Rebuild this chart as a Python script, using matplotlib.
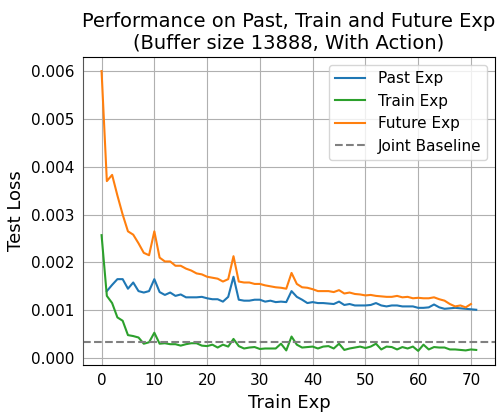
import numpy as np
import matplotlib
matplotlib.use("Agg")
import matplotlib.pyplot as plt

past = [np.nan, 0.00140, 0.00153, 0.00165, 0.00165, 0.00145, 0.00158, 0.00140, 0.00137, 0.00140,
        0.00165, 0.00138, 0.00132, 0.00137, 0.00130, 0.00133, 0.00127, 0.00127, 0.00127, 0.00128,
        0.00125, 0.00123, 0.00123, 0.00118, 0.00128, 0.00170, 0.00122, 0.00120, 0.00120, 0.00122,
        0.00122, 0.00118, 0.00120, 0.00117, 0.00118, 0.00117, 0.00140, 0.00128, 0.00122, 0.00115,
        0.00117, 0.00115, 0.00115, 0.00114, 0.00113, 0.00118, 0.00111, 0.00113, 0.00110, 0.00110,
        0.00110, 0.00111, 0.00115, 0.00110, 0.00108, 0.00110, 0.00110, 0.00108, 0.00108, 0.00108,
        0.00105, 0.00105, 0.00106, 0.00112, 0.00106, 0.00103, 0.00104, 0.00105, 0.00104, 0.00103,
        0.00102, 0.00101]

train = [0.00257, 0.00130, 0.00115, 0.00085, 0.00078, 0.00048, 0.00046, 0.00043, 0.00030, 0.00033,
         0.00053, 0.00030, 0.00031, 0.00029, 0.00029, 0.00026, 0.00029, 0.00031, 0.00031, 0.00026,
         0.00025, 0.00028, 0.00022, 0.00028, 0.00024, 0.00040, 0.00025, 0.00020, 0.00022, 0.00023,
         0.00019, 0.00020, 0.00020, 0.00020, 0.00030, 0.00016, 0.00045, 0.00028, 0.00022, 0.00023,
         0.00024, 0.00020, 0.00024, 0.00025, 0.00020, 0.00030, 0.00017, 0.00020, 0.00022, 0.00024,
         0.00021, 0.00024, 0.00030, 0.00018, 0.00024, 0.00023, 0.00018, 0.00023, 0.00020, 0.00024,
         0.00015, 0.00028, 0.00018, 0.00023, 0.00022, 0.00022, 0.00018, 0.00018, 0.00017, 0.00016,
         0.00018, 0.00017]

future = [0.00600, 0.00370, 0.00383, 0.00340, 0.00300, 0.00265, 0.00258, 0.00240, 0.00220, 0.00215,
          0.00265, 0.00210, 0.00202, 0.00202, 0.00193, 0.00193, 0.00187, 0.00183, 0.00177, 0.00175,
          0.00170, 0.00168, 0.00166, 0.00160, 0.00165, 0.00213, 0.00160, 0.00158, 0.00158, 0.00155,
          0.00155, 0.00152, 0.00150, 0.00148, 0.00147, 0.00145, 0.00178, 0.00155, 0.00148, 0.00147,
          0.00144, 0.00140, 0.00140, 0.00140, 0.00138, 0.00142, 0.00135, 0.00137, 0.00134, 0.00133,
          0.00131, 0.00132, 0.00130, 0.00129, 0.00128, 0.00128, 0.00130, 0.00127, 0.00128, 0.00125,
          0.00126, 0.00125, 0.00125, 0.00127, 0.00123, 0.00120, 0.00113, 0.00108, 0.00110, 0.00106,
          0.00113]

joint_baseline = 0.00034

fig = plt.figure(figsize=(5.02, 4.17), dpi=100)
ax = fig.add_axes([0.165, 0.125, 0.821, 0.738])
ax.plot(np.arange(len(past)), past, color="#1f77b4", lw=1.5, label="Past Exp")
ax.plot(np.arange(len(train)), train, color="#2ca02c", lw=1.5, label="Train Exp")
ax.plot(np.arange(len(future)), future, color="#ff7f0e", lw=1.5, label="Future Exp")
ax.axhline(joint_baseline, color="grey", ls="--", lw=1.5, label="Joint Baseline")
ax.grid(True, color="#b0b0b0", lw=0.8)
ax.set_xticks(range(0, 71, 10))
ax.set_yticks([0, 0.001, 0.002, 0.003, 0.004, 0.005, 0.006])
ax.set_yticklabels(["0.000", "0.001", "0.002", "0.003", "0.004", "0.005", "0.006"])
ax.tick_params(labelsize=11, length=0, pad=6)
ax.spines["left"].set_color("#555555")
ax.set_xlabel("Train Exp", fontsize=13)
ax.set_ylabel("Test Loss", fontsize=13)
ax.set_title("Performance on Past, Train and Future Exp\n(Buffer size 13888, With Action)", fontsize=14)
ax.legend(fontsize=11, loc="upper right")
fig.savefig("out.png", dpi=100)
